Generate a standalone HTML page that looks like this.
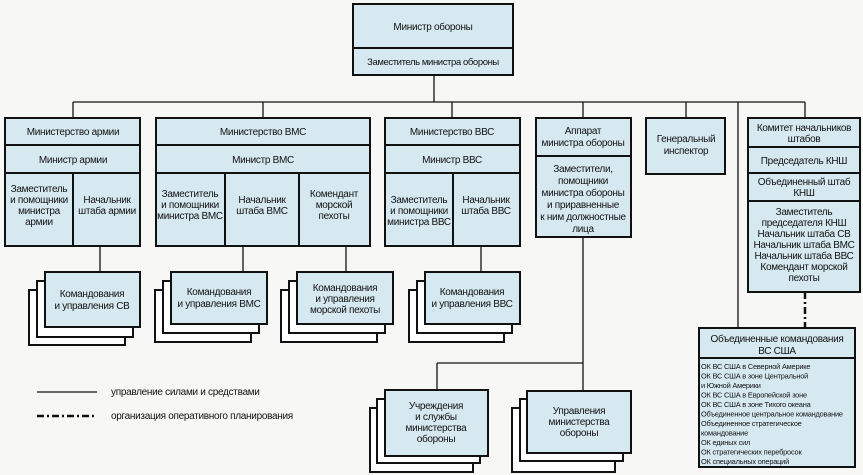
<!DOCTYPE html>
<html><head><meta charset="utf-8"><style>
html,body{margin:0;padding:0;background:#f7f7f5;}
svg{display:block;}
text{font-family:"Liberation Sans",sans-serif;font-size:10px;letter-spacing:-0.3px;fill:#111;text-anchor:middle;}
.s{font-size:7.4px;letter-spacing:-0.2px;text-anchor:start;}
.l{text-anchor:start;font-size:10px;}
.c{font-size:9.5px;letter-spacing:-0.4px;}
</style></head><body>
<svg width="863" height="475" viewBox="0 0 863 475" xmlns="http://www.w3.org/2000/svg">
<g fill="none" stroke="#111" stroke-width="1.3">
<line x1="434" y1="75" x2="434" y2="102"/>
<line x1="73" y1="102" x2="805" y2="102"/>
<line x1="73" y1="102" x2="73" y2="118"/>
<line x1="263" y1="102" x2="263" y2="118"/>
<line x1="452" y1="102" x2="452" y2="118"/>
<line x1="583" y1="102" x2="583" y2="118"/>
<line x1="686" y1="102" x2="686" y2="118"/>
<line x1="805" y1="102" x2="805" y2="118"/>
<line x1="738" y1="102" x2="738" y2="328"/>
<line x1="100" y1="246" x2="100" y2="272"/>
<line x1="243" y1="246" x2="243" y2="272"/>
<line x1="346" y1="246" x2="346" y2="272"/>
<line x1="481" y1="246" x2="481" y2="272"/>
<line x1="583" y1="237" x2="583" y2="391"/>
<line x1="437" y1="363" x2="583" y2="363"/>
<line x1="437" y1="363" x2="437" y2="390"/>
<line x1="37" y1="392" x2="97" y2="392"/>
</g>
<line x1="805" y1="292" x2="805" y2="328" stroke="#111" stroke-width="2.5" stroke-dasharray="7,3,2,3"/>
<line x1="37" y1="416" x2="97" y2="416" stroke="#111" stroke-width="2.5" stroke-dasharray="7,3,2,3"/>

<g stroke="#111" stroke-width="2" fill="#d6e9f1">
<rect x="353" y="4" width="160" height="71"/>
<line x1="353" y1="48" x2="513" y2="48"/>
<rect x="5" y="118" width="135" height="128"/>
<line x1="5" y1="145" x2="140" y2="145"/><line x1="5" y1="173" x2="140" y2="173"/><line x1="73" y1="173" x2="73" y2="246"/>
<rect x="156" y="118" width="214" height="128"/>
<line x1="156" y1="145" x2="370" y2="145"/><line x1="156" y1="173" x2="370" y2="173"/><line x1="225" y1="173" x2="225" y2="246"/><line x1="299" y1="173" x2="299" y2="246"/>
<rect x="385" y="118" width="135" height="128"/>
<line x1="385" y1="145" x2="520" y2="145"/><line x1="385" y1="173" x2="520" y2="173"/><line x1="453" y1="173" x2="453" y2="246"/>
<rect x="536" y="118" width="95" height="119"/>
<line x1="536" y1="156" x2="631" y2="156"/>
<rect x="646" y="118" width="79" height="56"/>
<rect x="748" y="118" width="112" height="174"/>
<line x1="748" y1="147" x2="860" y2="147"/><line x1="748" y1="173" x2="860" y2="173"/><line x1="748" y1="201" x2="860" y2="201"/>
<rect x="699" y="328" width="156" height="139"/>
<line x1="699" y1="358" x2="855" y2="358"/>
</g>

<g stroke="#111" stroke-width="2">
<g fill="#fff"><rect x="29" y="290" width="96" height="55"/><rect x="37" y="281" width="96" height="56"/></g>
<rect x="45" y="272" width="95" height="55" fill="#d6e9f1"/>
<g fill="#fff"><rect x="155" y="290" width="96" height="52"/><rect x="163" y="281" width="96" height="52"/></g>
<rect x="171" y="272" width="96" height="52" fill="#d6e9f1"/>
<g fill="#fff"><rect x="281" y="290" width="96" height="52"/><rect x="289" y="281" width="96" height="52"/></g>
<rect x="297" y="272" width="96" height="52" fill="#d6e9f1"/>
<g fill="#fff"><rect x="409" y="290" width="95" height="52"/><rect x="417" y="281" width="95" height="52"/></g>
<rect x="425" y="272" width="95" height="52" fill="#d6e9f1"/>
<g fill="#fff"><rect x="370" y="408" width="103" height="64"/><rect x="377" y="399" width="103" height="64"/></g>
<rect x="385" y="390" width="103" height="66" fill="#d6e9f1"/>
<g fill="#fff"><rect x="512" y="408" width="103" height="64"/><rect x="520" y="399" width="103" height="62"/></g>
<rect x="527" y="391" width="104" height="62" fill="#d6e9f1"/>
</g>

<text x="433" y="30">Министр обороны</text>
<text x="433" y="65" class="c">Заместитель министра обороны</text>

<text x="73" y="135">Министерство армии</text>
<text x="73" y="163">Министр армии</text>
<text x="263" y="135">Министерство ВМС</text>
<text x="263" y="163">Министр ВМС</text>
<text x="452" y="135">Министерство ВВС</text>
<text x="452" y="163">Министр ВВС</text>
<g class="c">
<text x="39" y="192">Заместитель</text><text x="39" y="203">и помощники</text><text x="39" y="214">министра</text><text x="39" y="225">армии</text>
<text x="107" y="203">Начальник</text><text x="107" y="214">штаба армии</text>
<text x="190" y="197">Заместитель</text><text x="190" y="208">и помощники</text><text x="190" y="219">министра ВМС</text>
<text x="262" y="203">Начальник</text><text x="262" y="214">штаба ВМС</text>
<text x="334" y="197">Комендант</text><text x="334" y="208">морской</text><text x="334" y="219">пехоты</text>
<text x="419" y="203">Заместитель</text><text x="419" y="214">и помощники</text><text x="419" y="225">министра ВВС</text>
<text x="486" y="203">Начальник</text><text x="486" y="214">штаба ВВС</text>
<text x="583" y="134">Аппарат</text><text x="583" y="146">министра обороны</text>
<text x="583" y="172">Заместители,</text><text x="583" y="184">помощники</text><text x="583" y="196">министра обороны</text><text x="583" y="208">и приравненные</text><text x="583" y="220">к ним должностные</text><text x="583" y="232">лица</text>
<text x="686" y="142">Генеральный</text><text x="686" y="154">инспектор</text>
<text x="804" y="131">Комитет начальников</text><text x="804" y="142">штабов</text>
<text x="804" y="164">Председатель КНШ</text>
<text x="804" y="185">Объединенный штаб</text><text x="804" y="196">КНШ</text>
<text x="804" y="215">Заместитель</text><text x="804" y="226">председателя КНШ</text><text x="804" y="237">Начальник штаба СВ</text><text x="804" y="248">Начальник штаба ВМС</text><text x="804" y="259">Начальник штаба ВВС</text><text x="804" y="270">Комендант морской</text><text x="804" y="281">пехоты</text>
<text x="92" y="297">Командования</text><text x="92" y="309">и управления СВ</text>
<text x="219" y="295">Командования</text><text x="219" y="307">и управления ВМС</text>
<text x="345" y="291">Командования</text><text x="345" y="302">и управления</text><text x="345" y="313">морской пехоты</text>
<text x="472" y="295">Командования</text><text x="472" y="307">и управления ВВС</text>
<text x="436" y="409">Учреждения</text><text x="436" y="420">и службы</text><text x="436" y="431">министерства</text><text x="436" y="442">обороны</text>
<text x="579" y="414">Управления</text><text x="579" y="425">министерства</text><text x="579" y="436">обороны</text>
<text x="777" y="342">Объединенные командования</text><text x="777" y="354">ВС США</text>
</g>
<text class="s" x="701" y="369">ОК ВС США в Северной Америке</text>
<text class="s" x="701" y="378.5">ОК ВС США в зоне Центральной</text>
<text class="s" x="701" y="388">и Южной Америки</text>
<text class="s" x="701" y="397.5">ОК ВС США в Европейской зоне</text>
<text class="s" x="701" y="407">ОК ВС США в зоне Тихого океана</text>
<text class="s" x="701" y="416.5">Объединенное центральное командование</text>
<text class="s" x="701" y="426">Объединенное стратегическое</text>
<text class="s" x="701" y="435.5">командование</text>
<text class="s" x="701" y="445">ОК единых сил</text>
<text class="s" x="701" y="454.5">ОК стратегических перебросок</text>
<text class="s" x="701" y="464">ОК специальных операций</text>

<text class="l" x="111" y="395">управление силами и средствами</text>
<text class="l" x="111" y="419">организация оперативного планирования</text>
</svg>
</body></html>
